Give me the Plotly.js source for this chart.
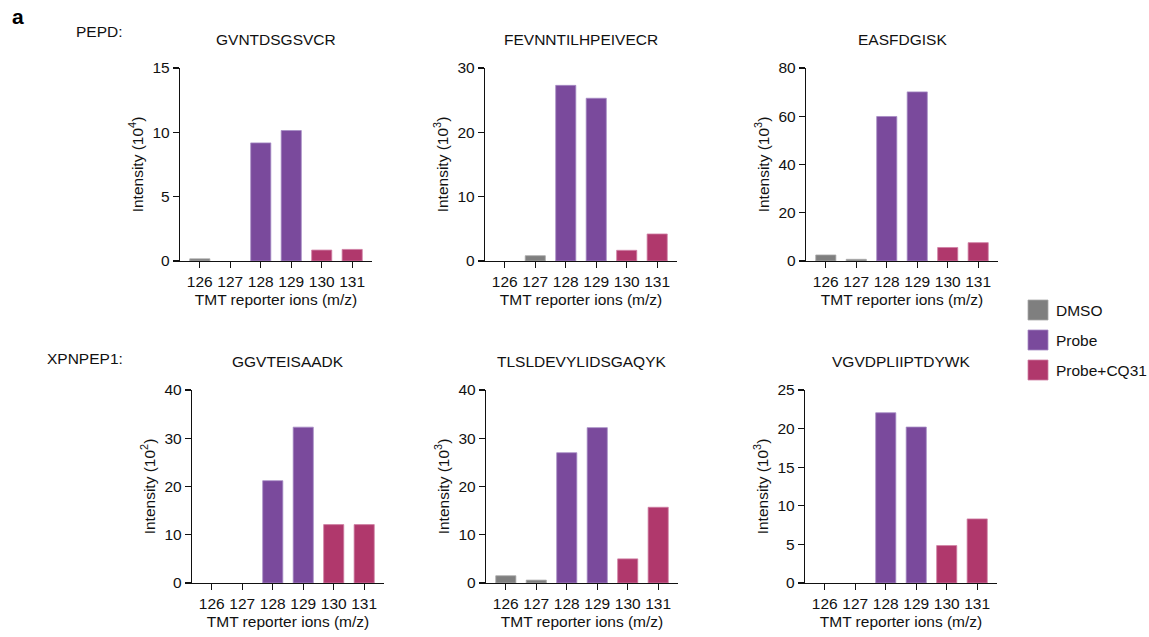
<!DOCTYPE html>
<html>
<head>
<meta charset="utf-8">
<script src="https://cdn.plot.ly/plotly-3.0.1.min.js"></script>
<style>
  html, body { margin: 0; padding: 0; background: #fff; }
  #chart { width: 1149px; height: 637px; }
</style>
</head>
<body>
<div id="chart"></div>
<script>
// ---- Data ----
const ions = ['126', '127', '128', '129', '130', '131'];
const groupNames = ['DMSO', 'Probe', 'Probe+CQ31'];
const groupIons = [['126', '127'], ['128', '129'], ['130', '131']];
const groupColors = ['#7f7f7f', '#7a4a9c', '#b0386c'];
const groupEdges = ['#a8a8a8', '#a68bc4', '#cf7fa3'];

const proteins = ['PEPD:', 'XPNPEP1:'];
const peptides = ['GVNTDSGSVCR', 'FEVNNTILHPEIVECR', 'EASFDGISK',
                  'GGVTEISAADK', 'TLSLDEVYLIDSGAQYK', 'VGVDPLIIPTDYWK'];
const exponents = ['4', '3', '3', '2', '3', '3'];
const yMax = [15, 30, 80, 40, 40, 25];
const yDtick = [5, 10, 20, 10, 10, 5];

const valsGVNTDSGSVCR       = [0.17, 0, 9.18, 10.14, 0.85, 0.9];
const valsFEVNNTILHPEIVECR  = [0, 0.82, 27.3, 25.3, 1.66, 4.2];
const valsEASFDGISK         = [2.5, 0.7, 59.9, 70.1, 5.6, 7.6];
const valsGGVTEISAADK       = [0, 0, 21.2, 32.3, 12.1, 12.1];
const valsTLSLDEVYLIDSGAQYK = [1.5, 0.6, 27.0, 32.2, 5.0, 15.7];
const valsVGVDPLIIPTDYWK    = [0, 0, 22.05, 20.2, 4.85, 8.3];
const panelValues = [valsGVNTDSGSVCR, valsFEVNNTILHPEIVECR, valsEASFDGISK,
                     valsGGVTEISAADK, valsTLSLDEVYLIDSGAQYK, valsVGVDPLIIPTDYWK];

// ---- Layout geometry (pixels) ----
const W = 1149, H = 637;
const FONT = 'Liberation Sans, Arial, Helvetica, sans-serif';
const FS = 15.5;
const TXT = '#111';
const panelX = [[180, 372], [485, 677], [806, 998], [192, 384], [486, 678], [805, 997]];
const panelY = [[68, 261], [68, 261], [68, 261], [390, 583], [390, 583], [390, 583]];
const titleY = [40, 40, 40, 361, 361, 361];

const px = v => v / W;
const py = v => 1 - v / H;

const traces = [];
const layout = {
  width: W, height: H,
  margin: {l: 0, r: 0, t: 0, b: 0},
  paper_bgcolor: '#fff', plot_bgcolor: '#fff',
  barmode: 'overlay',
  showlegend: false,
  font: {family: FONT, size: FS, color: TXT},
  annotations: [],
  shapes: []
};

panelValues.forEach((vals, p) => {
  const s = p === 0 ? '' : String(p + 1);
  groupNames.forEach((g, gi) => {
    const xs = groupIons[gi];
    const ys = xs.map(ion => vals[ions.indexOf(ion)]);
    traces.push({
      type: 'bar', name: g, x: xs, y: ys,
      xaxis: 'x' + s, yaxis: 'y' + s,
      width: 0.66,
      marker: {color: groupColors[gi],
               line: {color: groupEdges[gi], width: ys.map(v => v > 0 ? 0.8 : 0)}},
      showlegend: false,
      hovertemplate: g + ' %{x}: %{y}<extra>' + peptides[p] + '</extra>'
    });
  });
  layout['xaxis' + s] = {
    domain: [px(panelX[p][0]), px(panelX[p][1])],
    anchor: 'y' + s,
    type: 'category',
    categoryorder: 'array', categoryarray: ions,
    range: [-0.65, 5.65],
    showgrid: false, zeroline: false,
    showline: true, linecolor: TXT, linewidth: 1.2,
    ticks: 'outside', ticklen: 6, tickwidth: 1.2, tickcolor: TXT,
    tickfont: {family: FONT, size: FS, color: TXT},
    title: {text: 'TMT reporter ions (m/z)', font: {family: FONT, size: FS, color: TXT}, standoff: 5},
    fixedrange: true
  };
  layout['yaxis' + s] = {
    domain: [py(panelY[p][1]), py(panelY[p][0])],
    anchor: 'x' + s,
    range: [0, yMax[p]],
    tick0: 0, dtick: yDtick[p],
    showgrid: false, zeroline: false,
    showline: true, linecolor: TXT, linewidth: 1.2,
    ticks: 'outside', ticklen: 6, tickwidth: 1.2, tickcolor: TXT,
    tickfont: {family: FONT, size: FS, color: TXT},
    title: {text: 'Intensity (10<sup>' + exponents[p] + '</sup>)', font: {family: FONT, size: FS, color: TXT}, standoff: 5},
    fixedrange: true
  };
  layout.annotations.push({
    xref: 'paper', yref: 'paper',
    x: px((panelX[p][0] + panelX[p][1]) / 2), y: py(titleY[p]),
    xanchor: 'center', yanchor: 'middle',
    text: peptides[p], showarrow: false,
    font: {family: FONT, size: FS, color: TXT}
  });
});

// Panel letter and protein labels
layout.annotations.push({
  xref: 'paper', yref: 'paper', x: px(10), y: py(16),
  xanchor: 'left', yanchor: 'middle', text: '<b>a</b>', showarrow: false,
  font: {family: FONT, size: 21, color: '#000'}
});
const proteinY = [32, 358];
proteins.forEach((t, i) => {
  layout.annotations.push({
    xref: 'paper', yref: 'paper', x: px(125), y: py(proteinY[i]),
    xanchor: 'right', yanchor: 'middle', text: t, showarrow: false,
    font: {family: FONT, size: FS, color: TXT}
  });
});

// Legend (swatches + labels)
const legendY = [310, 340, 370];
groupNames.forEach((g, gi) => {
  layout.shapes.push({
    type: 'rect', xref: 'paper', yref: 'paper',
    x0: px(1028), x1: px(1048), y0: py(legendY[gi] + 10), y1: py(legendY[gi] - 10),
    fillcolor: groupColors[gi], line: {color: groupEdges[gi], width: 0.8}
  });
  layout.annotations.push({
    xref: 'paper', yref: 'paper', x: px(1054), y: py(legendY[gi]),
    xanchor: 'left', yanchor: 'middle', text: g, showarrow: false,
    font: {family: FONT, size: FS, color: TXT}
  });
});

Plotly.newPlot('chart', traces, layout, {staticPlot: true, displayModeBar: false});
</script>
</body>
</html>
